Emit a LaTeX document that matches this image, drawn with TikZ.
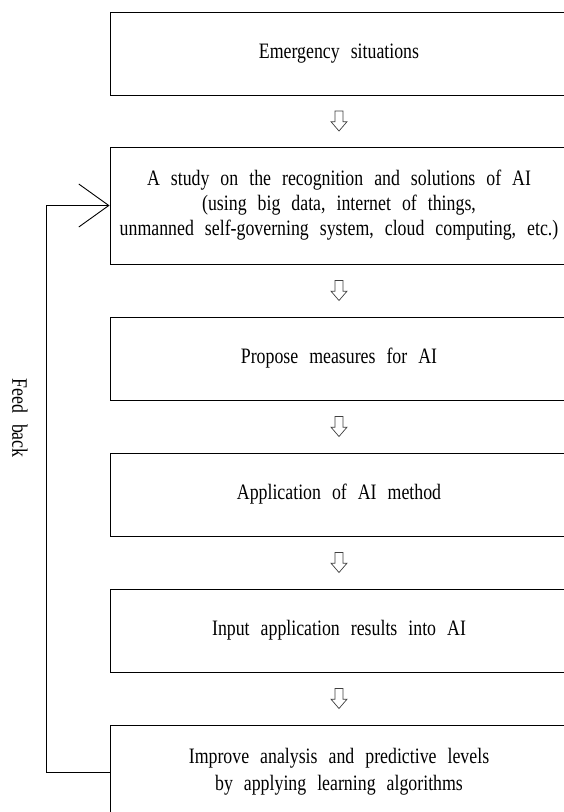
\documentclass[tikz,border=0pt]{standalone}
\usepackage{fontspec}
\setmainfont{Liberation Serif}
\newfontfamily\narrowserif[FakeStretch=0.81]{Liberation Serif}
\usetikzlibrary{arrows.meta}
\begin{document}
\begin{tikzpicture}[x=1pt,y=-1pt,
  textfont/.style={font={\narrowserif\fontsize{22}{25}\selectfont\spaceskip=11pt\relax}},
  stage/.style={draw=black, line width=0.9pt, minimum width=458pt, align=center,
    inner sep=0pt, textfont},
  hollowdown/.pic={
    \draw[line width=0.7pt, draw=black!75, line join=miter]
      (-4,-10) -- (4,-10) -- (4,0.7) -- (8,0.7) -- (0,10) -- (-8,0.7) -- (-4,0.7) -- cycle;
  },
  feedback/.style={line width=0.9pt, -{Straight Barb[length=30pt,width=43pt,line width=0.9pt]}}
]
\clip (0,0) rectangle (564,812);
\fill[white] (0,0) rectangle (564,812);

% process stages
\node[stage, minimum height=83pt]  (s1) at (339,53.5)  {Emergency situations};
\node[stage, minimum height=117pt] (s2) at (339,205.5) {A study on the recognition and solutions of AI\\(using big data, internet of things,\\unmanned self-governing system, cloud computing, etc.)};
\node[stage, minimum height=83pt]  (s3) at (339,358.5) {Propose measures for AI};
\node[stage, minimum height=83pt]  (s4) at (339,494.5) {Application of AI method};
\node[stage, minimum height=83pt]  (s5) at (339,630.5) {Input application results into AI};
\node[stage, minimum height=94pt, font={\narrowserif\fontsize{22}{27}\selectfont\spaceskip=11pt\relax}]
  (s6) at (339,772) {Improve analysis and predictive levels\\by applying learning algorithms};

% hollow arrows between consecutive stages
\foreach \a/\b in {s1/s2,s2/s3,s3/s4,s4/s5,s5/s6}{
  \path (\a.south) -- (\b.north) coordinate[midway] (m-\a);
  \pic at (m-\a) {hollowdown};
}

% feedback loop
\coordinate (fbx) at (46,0);
\draw[feedback] (s6.west) -- (s6.west -| fbx) -- (s2.west -| fbx) -- (s2.west);
\node[rotate=-90, textfont] (fb) at (20,418) {Feed back};
\end{tikzpicture}
\end{document}
